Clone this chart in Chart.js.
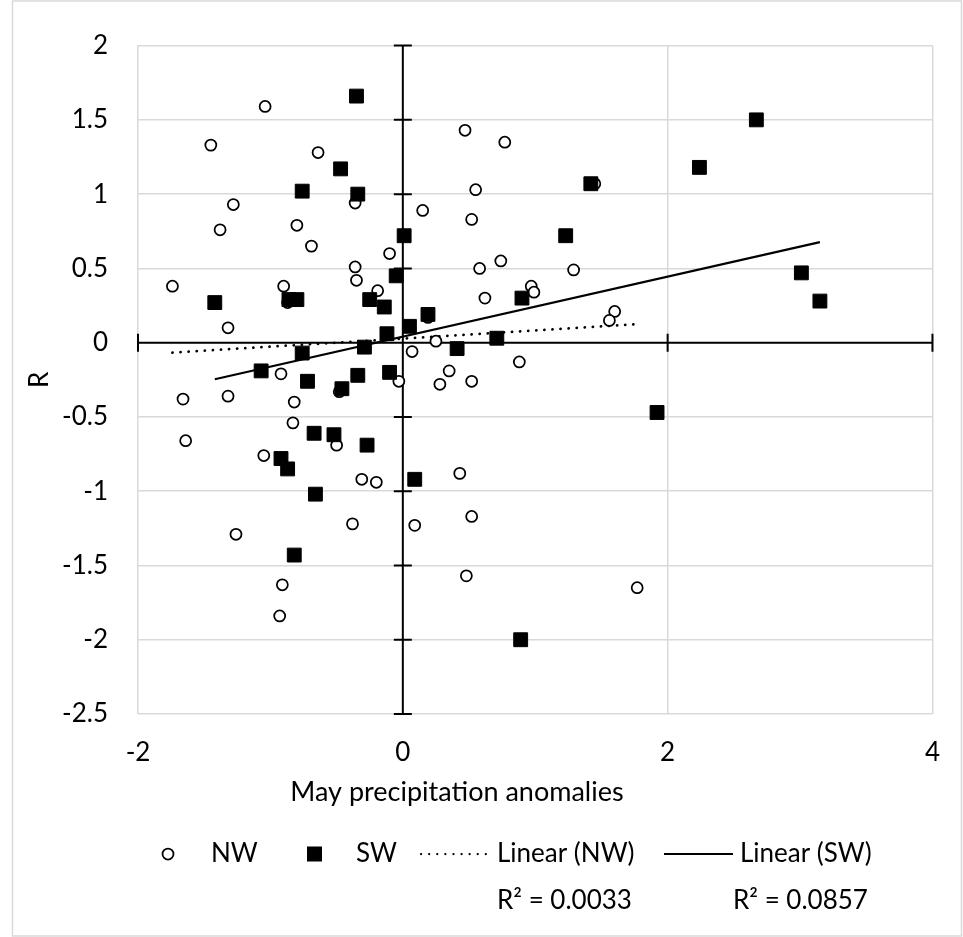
<!DOCTYPE html>
<html>
<head>
<meta charset="utf-8">
<title>R vs May precipitation anomalies</title>
<script src="https://cdn.jsdelivr.net/npm/chart.js@4.4.1/dist/chart.umd.min.js"></script>
<style>
    html, body { margin: 0; padding: 0; background: #fff; }
</style>
</head>
<body>
<canvas id="precipChart" width="963" height="937"></canvas>
<script>
// NW sites (open circles)
const nwX = [-1.04, -1.45, -0.64, -1.28, -0.36, -1.38, -0.80, -0.69, -0.10, -0.36, -0.35, -1.74, -0.90, -0.87, -0.19, -1.32,
             0.47, 0.77, 1.45, 0.55, 0.15, 0.52, 0.74, 0.58, 1.29, 0.97, 0.99, 0.62, 0.19, 1.60, 1.56, 0.25, 0.07, 0.88,
             0.35, 0.28, 0.52, -0.03, -0.92, -0.48, -1.66, -1.32, -0.82, -0.83, -0.50, -1.64, -1.05, -0.31, -0.20, -0.38,
             -1.26, -0.91, -0.93, 0.43, 0.09, 0.52, 0.48, 1.77];
const nwY = [1.59, 1.33, 1.28, 0.93, 0.94, 0.76, 0.79, 0.65, 0.60, 0.51, 0.42, 0.38, 0.38, 0.27, 0.35, 0.10,
             1.43, 1.35, 1.07, 1.03, 0.89, 0.83, 0.55, 0.50, 0.49, 0.38, 0.34, 0.30, 0.17, 0.21, 0.15, 0.01, -0.06, -0.13,
             -0.19, -0.28, -0.26, -0.26, -0.21, -0.33, -0.38, -0.36, -0.40, -0.54, -0.69, -0.66, -0.76, -0.92, -0.94, -1.22,
             -1.29, -1.63, -1.84, -0.88, -1.23, -1.17, -1.57, -1.65];

// SW sites (filled squares)
const swX = [-0.35, -0.47, -0.76, -0.34, 0.01, -0.05, -1.42, -0.86, -0.80, -0.25, -0.14, -0.12, 0.05, -0.76, -0.29, -1.07,
             -0.72, -0.34, -0.10, -0.46, -0.67, -0.52, -0.27, -0.92, -0.87, -0.66, -0.82, 1.42, 1.23, 0.90, 0.19, 0.71,
             0.41, 1.92, 0.09, 0.89, 2.67, 2.24, 3.01, 3.15];
const swY = [1.66, 1.17, 1.02, 1.00, 0.72, 0.45, 0.27, 0.29, 0.29, 0.29, 0.24, 0.06, 0.11, -0.07, -0.03, -0.19,
             -0.26, -0.22, -0.20, -0.31, -0.61, -0.62, -0.69, -0.78, -0.85, -1.02, -1.43, 1.07, 0.72, 0.30, 0.19, 0.03,
             -0.04, -0.47, -0.92, -2.00, 1.50, 1.18, 0.47, 0.28];

const xTickValues = [-2, 0, 2, 4];
const yTickValues = [-2.5, -2, -1.5, -1, -0.5, 0, 0.5, 1, 1.5, 2];

const seriesNames = ['NW', 'SW', 'Linear (NW)', 'Linear (SW)'];
const r2Labels = ['R² = 0.0033', 'R² = 0.0857'];
const xTitle = 'May precipitation anomalies';
const yTitle = 'R';

const FONT = 'Lato, Carlito, Calibri, sans-serif';
const GRID = '#d9d9d9';

function toPoints(xs, ys) {
    return xs.map((x, i) => ({ x: x, y: ys[i] }));
}

// least squares fit, drawn between the smallest and largest x like Excel does
function trendPoints(xs, ys) {
    const n = xs.length;
    const mx = xs.reduce((a, b) => a + b, 0) / n;
    const my = ys.reduce((a, b) => a + b, 0) / n;
    let sxy = 0, sxx = 0;
    for (let i = 0; i < n; i++) {
        sxy += (xs[i] - mx) * (ys[i] - my);
        sxx += (xs[i] - mx) * (xs[i] - mx);
    }
    const slope = sxy / sxx;
    const icept = my - slope * mx;
    const lo = Math.min(...xs);
    const hi = Math.max(...xs);
    return [{ x: lo, y: icept + slope * lo }, { x: hi, y: icept + slope * hi }];
}

// white page with the thin chart frame
const chartFrame = {
    id: 'chartFrame',
    beforeDraw(chart) {
        const ctx = chart.ctx;
        ctx.save();
        ctx.fillStyle = '#fff';
        ctx.fillRect(0, 0, chart.width, chart.height);
        ctx.strokeStyle = GRID;
        ctx.lineWidth = 1.5;
        ctx.strokeRect(12.5, 1, chart.width - 14, chart.height - 2);
        ctx.restore();
    }
};

// Excel style axes crossing at zero, with cross tick marks
const zeroAxes = {
    id: 'zeroAxes',
    beforeDatasetsDraw(chart) {
        const { ctx, chartArea, scales: { x, y } } = chart;
        const x0 = x.getPixelForValue(0);
        const y0 = y.getPixelForValue(0);
        ctx.save();
        ctx.strokeStyle = '#000';
        ctx.lineWidth = 2;
        ctx.beginPath();
        ctx.moveTo(chartArea.left, y0);
        ctx.lineTo(chartArea.right, y0);
        ctx.moveTo(x0, chartArea.top);
        ctx.lineTo(x0, chartArea.bottom);
        xTickValues.forEach(v => {
            const px = x.getPixelForValue(v);
            ctx.moveTo(px, y0 - 9);
            ctx.lineTo(px, y0 + 9);
        });
        yTickValues.forEach(v => {
            const py = y.getPixelForValue(v);
            ctx.moveTo(x0 - 9, py);
            ctx.lineTo(x0 + 9, py);
        });
        ctx.stroke();
        ctx.restore();
    }
};

// x title, legend row and R² labels under the plot
const bottomTexts = {
    id: 'bottomTexts',
    afterDraw(chart) {
        const ctx = chart.ctx;
        ctx.save();
        ctx.fillStyle = '#000';
        ctx.textBaseline = 'middle';

        ctx.font = '27px ' + FONT;
        ctx.textAlign = 'center';
        ctx.fillText(xTitle, 457, 792);

        ctx.font = '26px ' + FONT;
        ctx.textAlign = 'left';
        const rowY = 854;

        // NW marker
        ctx.strokeStyle = '#000';
        ctx.lineWidth = 1.75;
        ctx.beginPath();
        ctx.arc(168, rowY, 5.5, 0, Math.PI * 2);
        ctx.stroke();
        ctx.fillText(seriesNames[0], 211, rowY);

        // SW marker
        ctx.fillRect(307, rowY - 7.5, 15, 15);
        ctx.fillText(seriesNames[1], 356, rowY);

        // dotted trend
        ctx.lineCap = 'round';
        ctx.lineWidth = 2.25;
        ctx.setLineDash([0.1, 8]);
        ctx.beginPath();
        ctx.moveTo(421, rowY);
        ctx.lineTo(489, rowY);
        ctx.stroke();
        ctx.fillText(seriesNames[2], 497, rowY);

        // solid trend
        ctx.setLineDash([]);
        ctx.lineCap = 'butt';
        ctx.lineWidth = 2;
        ctx.beginPath();
        ctx.moveTo(664, rowY);
        ctx.lineTo(733, rowY);
        ctx.stroke();
        ctx.fillText(seriesNames[3], 740, rowY);

        ctx.fillText(r2Labels[0], 497, 901);
        ctx.fillText(r2Labels[1], 733, 901);
        ctx.restore();
    }
};

const ctx = document.getElementById('precipChart').getContext('2d');
new Chart(ctx, {
    type: 'scatter',
    data: {
        datasets: [{
            label: seriesNames[1],
            data: toPoints(swX, swY),
            pointStyle: 'rect',
            pointRadius: 9.8,
            pointHoverRadius: 9.8,
            backgroundColor: '#000',
            borderColor: '#000',
            borderWidth: 1,
            order: 0
        }, {
            label: seriesNames[0],
            data: toPoints(nwX, nwY),
            pointStyle: 'circle',
            pointRadius: 5.5,
            pointHoverRadius: 5.5,
            backgroundColor: '#fff',
            borderColor: '#000',
            borderWidth: 1.75,
            order: 1
        }, {
            label: seriesNames[3],
            data: trendPoints(swX, swY),
            showLine: true,
            pointRadius: 0,
            borderColor: '#000',
            borderWidth: 2.25,
            order: 2
        }, {
            label: seriesNames[2],
            data: trendPoints(nwX, nwY),
            showLine: true,
            pointRadius: 0,
            borderColor: '#000',
            borderWidth: 2.75,
            borderDash: [0.1, 8],
            borderCapStyle: 'round',
            order: 3
        }]
    },
    options: {
        responsive: false,
        animation: false,
        events: [],
        layout: {
            padding: { left: 12, top: 44, right: 28, bottom: 0 }
        },
        plugins: {
            legend: { display: false },
            tooltip: { enabled: false }
        },
        scales: {
            x: {
                type: 'linear',
                min: -2,
                max: 4,
                afterBuildTicks: scale => { scale.ticks = xTickValues.map(v => ({ value: v })); },
                afterFit: scale => { scale.height = 223; },
                border: { display: false },
                grid: {
                    drawTicks: false,
                    lineWidth: 1.5,
                    color: c => (c.tick && c.tick.value === 0) ? 'rgba(0,0,0,0)' : GRID
                },
                ticks: {
                    padding: 23,
                    color: '#000',
                    font: { family: FONT, size: 26 },
                    maxRotation: 0,
                    callback: v => String(v)
                }
            },
            y: {
                type: 'linear',
                min: -2.5,
                max: 2,
                afterBuildTicks: scale => { scale.ticks = yTickValues.map(v => ({ value: v })); },
                afterFit: scale => { scale.width = 126; },
                border: { display: false },
                grid: {
                    drawTicks: false,
                    lineWidth: 1.5,
                    color: c => (c.tick && c.tick.value === 0) ? 'rgba(0,0,0,0)' : GRID
                },
                ticks: {
                    padding: 30,
                    color: '#000',
                    font: { family: FONT, size: 26 },
                    callback: v => String(v)
                },
                title: {
                    display: true,
                    text: yTitle,
                    color: '#000',
                    font: { family: FONT, size: 26 },
                    padding: { top: 12, bottom: 0 }
                }
            }
        }
    },
    plugins: [chartFrame, zeroAxes, bottomTexts]
});
</script>
</body>
</html>
